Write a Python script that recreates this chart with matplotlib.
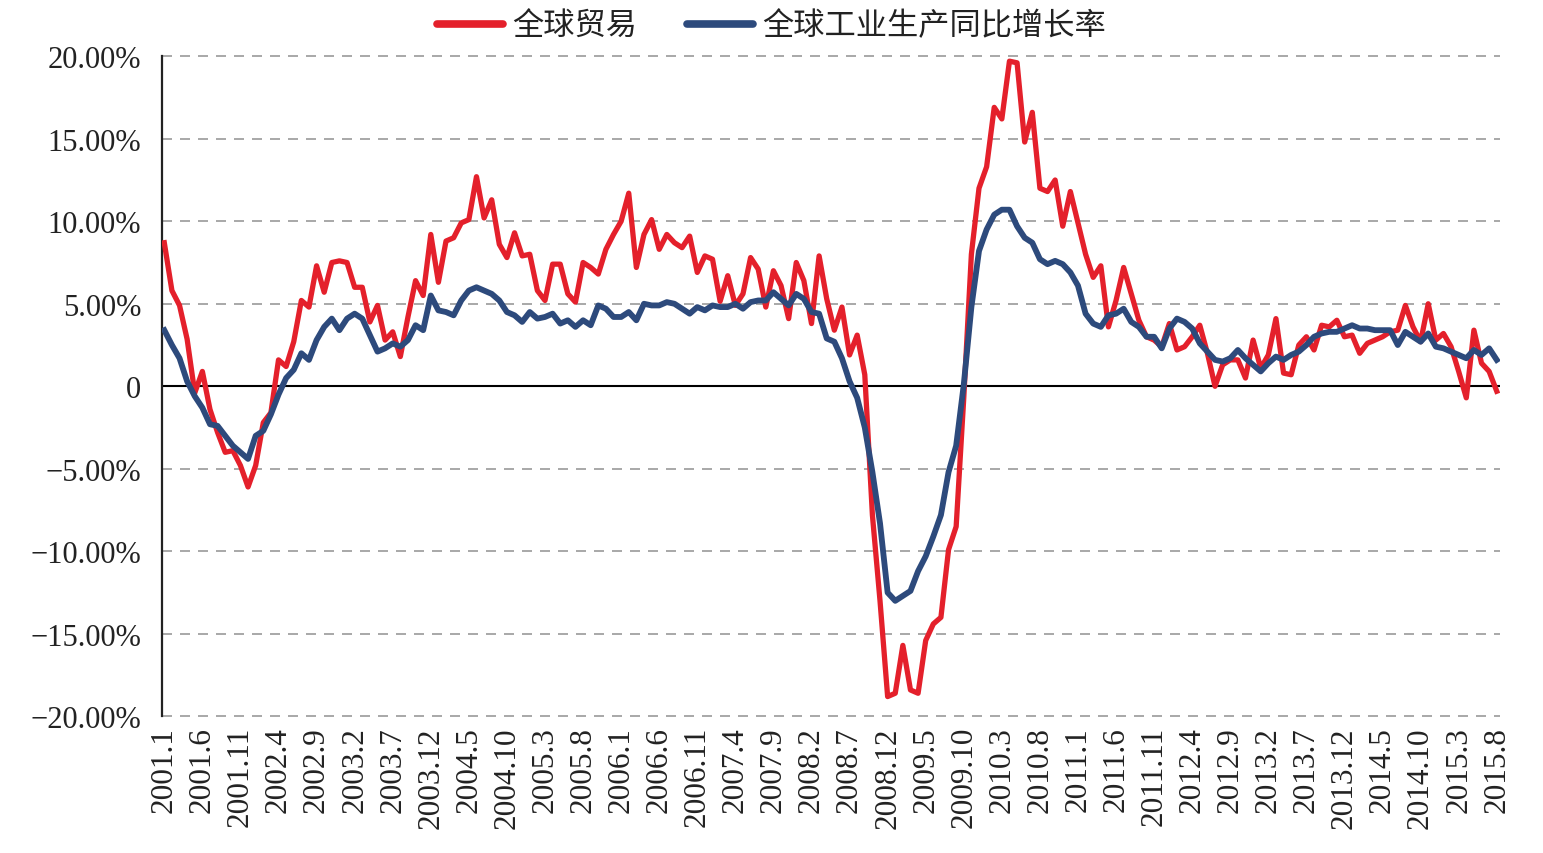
import matplotlib.pyplot as plt
from matplotlib.lines import Line2D
import numpy as np

# monthly values, 2001.1 - 2015.8 (%), one row per year
trade = [
    8.7, 5.8, 4.9, 2.85, -0.4, 0.9, -1.4, -2.8, -4.0, -3.9, -4.8, -6.1,
    -4.8, -2.2, -1.6, 1.6, 1.2, 2.7, 5.2, 4.8, 7.3, 5.7, 7.5, 7.6,
    7.5, 6.0, 6.0, 3.9, 4.9, 2.8, 3.3, 1.8, 4.2, 6.4, 5.5, 9.2,
    6.3, 8.8, 9.0, 9.9, 10.1, 12.7, 10.2, 11.3, 8.6, 7.8, 9.3, 7.9,
    8.0, 5.8, 5.2, 7.4, 7.4, 5.6, 5.1, 7.5, 7.2, 6.8, 8.3, 9.2,
    10.0, 11.7, 7.2, 9.2, 10.1, 8.3, 9.2, 8.7, 8.4, 9.1, 6.9, 7.9,
    7.7, 5.15, 6.7, 4.9, 5.6, 7.8, 7.1, 4.8, 7.0, 6.1, 4.1, 7.5,
    6.4, 3.8, 7.9, 5.3, 3.4, 4.8, 1.9, 3.1, 0.7, -7.8, -13.0, -18.8,
    -18.6, -15.7, -18.4, -18.6, -15.4, -14.4, -14.0, -9.9, -8.5, -0.7, 8.0, 12.0,
    13.3, 16.9, 16.2, 19.7, 19.6, 14.8, 16.6, 12.0, 11.8, 12.5, 9.7, 11.8,
    9.9, 8.0, 6.6, 7.3, 3.6, 5.2, 7.2, 5.6, 4.0, 3.0, 2.8, 2.4,
    3.8, 2.2, 2.4, 3.0, 3.7, 2.0, 0.0, 1.3, 1.6, 1.6, 0.5, 2.8,
    1.1, 1.9, 4.1, 0.8, 0.7, 2.5, 3.0, 2.2, 3.7, 3.6, 4.0, 3.0,
    3.1, 2.0, 2.6, 2.8, 3.0, 3.3, 3.4, 4.9, 3.6, 2.7, 5.0, 2.8,
    3.2, 2.4, 0.9, -0.7, 3.4, 1.4, 0.9, -0.3,
]

industry = [
    3.4, 2.5, 1.7, 0.3, -0.6, -1.3, -2.3, -2.4, -3.0, -3.6, -4.0, -4.4,
    -3.0, -2.7, -1.7, -0.5, 0.5, 1.0, 2.0, 1.6, 2.8, 3.6, 4.1, 3.4,
    4.1, 4.4, 4.1, 3.1, 2.1, 2.3, 2.6, 2.4, 2.8, 3.7, 3.4, 5.5,
    4.6, 4.5, 4.3, 5.2, 5.8, 6.0, 5.8, 5.6, 5.2, 4.5, 4.3, 3.9,
    4.5, 4.1, 4.2, 4.4, 3.8, 4.0, 3.6, 4.0, 3.7, 4.9, 4.7, 4.2,
    4.2, 4.5, 4.0, 5.0, 4.9, 4.9, 5.1, 5.0, 4.7, 4.4, 4.8, 4.6,
    4.9, 4.8, 4.8, 5.0, 4.7, 5.1, 5.2, 5.2, 5.7, 5.3, 4.9, 5.6,
    5.3, 4.5, 4.4, 2.9, 2.7, 1.7, 0.3, -0.7, -2.5, -5.2, -8.3, -12.5,
    -13.0, -12.7, -12.4, -11.2, -10.3, -9.1, -7.8, -5.2, -3.6, 0.1, 4.8, 8.2,
    9.5, 10.4, 10.7, 10.7, 9.7, 9.0, 8.7, 7.7, 7.4, 7.6, 7.4, 6.9,
    6.1, 4.4, 3.8, 3.6, 4.3, 4.4, 4.7, 3.9, 3.6, 3.0, 3.0, 2.3,
    3.5, 4.1, 3.9, 3.5, 2.6, 2.1, 1.6, 1.5, 1.7, 2.2, 1.7, 1.3,
    0.9, 1.4, 1.8, 1.6, 1.9, 2.1, 2.5, 3.0, 3.2, 3.3, 3.3, 3.5,
    3.7, 3.5, 3.5, 3.4, 3.4, 3.4, 2.5, 3.3, 3.0, 2.7, 3.2, 2.4,
    2.3, 2.1, 1.9, 1.7, 2.2, 1.9, 2.3, 1.6,
]

tick_labels = ['2001.1', '2001.6', '2001.11', '2002.4', '2002.9', '2003.2',
               '2003.7', '2003.12', '2004.5', '2004.10', '2005.3', '2005.8',
               '2006.1', '2006.6', '2006.11', '2007.4', '2007.9', '2008.2',
               '2008.7', '2008.12', '2009.5', '2009.10', '2010.3', '2010.8',
               '2011.1', '2011.6', '2011.11', '2012.4', '2012.9', '2013.2',
               '2013.7', '2013.12', '2014.5', '2014.10', '2015.3', '2015.8']

y_ticks = [-20, -15, -10, -5, 0, 5, 10, 15, 20]
y_labels = ['\u221220.00%', '\u221215.00%', '\u221210.00%', '\u22125.00%', '0',
            '5.00%', '10.00%', '15.00%', '20.00%']

series_names = ['全球贸易', '全球工业生产同比增长率']
red = '#E4202B'
navy = '#2D4A7C'

assert len(trade) == len(industry) == 176

x = np.arange(len(trade))

fig = plt.figure(figsize=(15.43, 8.54), dpi=100)
ax = fig.add_axes([0.105, 0.160, 0.867, 0.773])

# horizontal dashed grid, solid zero line
for v in y_ticks:
    if v == 0:
        ax.axhline(v, color='black', lw=1.5, zorder=1)
    else:
        ax.axhline(v, color='#9a9a9a', lw=1.2, ls=(0, (6, 4.8)), zorder=1, clip_on=False)

ax.plot(x, trade, color=red, lw=3.8, zorder=3)
ax.plot(x, industry, color=navy, lw=4.2, zorder=4)

ax.set_xlim(-0.3, 175.4)
ax.set_ylim(-20, 20)

ax.set_xticks(x[::5])
ax.set_xticklabels(tick_labels, rotation=90, family='Liberation Serif', fontsize=22.5)
ax.set_yticks(y_ticks)
ax.set_yticklabels(y_labels, family='Liberation Serif', fontsize=22)
ax.tick_params(axis='x', length=0, pad=7, colors='#222222')
ax.tick_params(axis='y', length=0, pad=15, colors='#222222')

for side in ['top', 'right', 'bottom']:
    ax.spines[side].set_visible(False)
ax.spines['left'].set_linewidth(1.6)
ax.spines['left'].set_color('#222222')

handles = [Line2D([], [], color=red, lw=5.5, solid_capstyle='round'),
           Line2D([], [], color=navy, lw=5.5, solid_capstyle='round')]
fig.legend(handles, series_names, loc='center', bbox_to_anchor=(0.5, 0.969),
           ncol=2, frameon=False, handlelength=2.1, handletextpad=0.3,
           columnspacing=1.6, labelcolor='#222222',
           prop={'family': ['Noto Sans CJK SC', 'DejaVu Sans'], 'size': 22.5})

fig.savefig('out.png', dpi=100)
